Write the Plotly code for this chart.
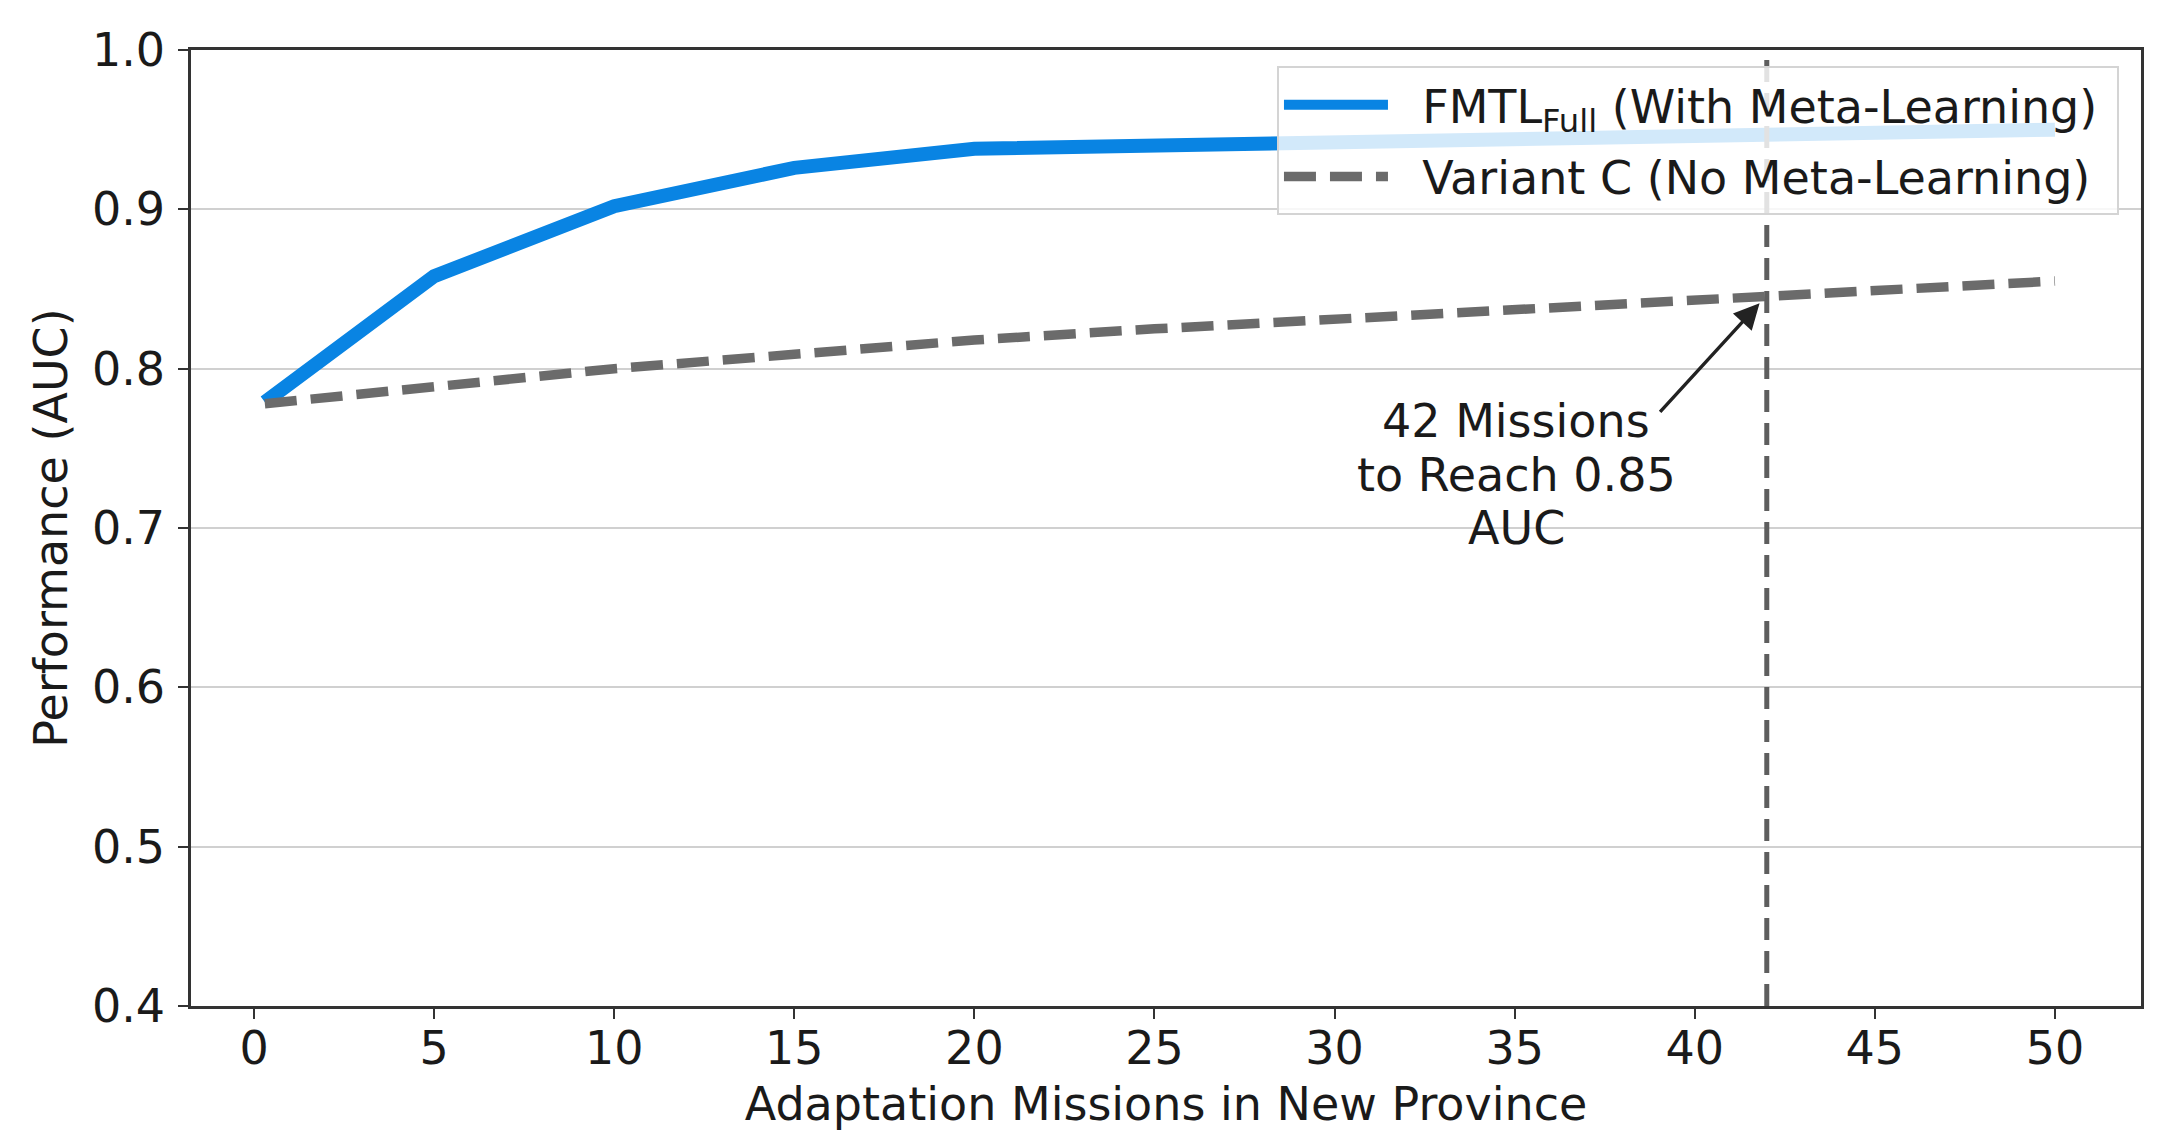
import plotly.graph_objects as go

# ---- data ----
missions = [0.3, 5, 10, 15, 20, 25, 30, 35, 40, 45, 50]
fmtl_full = [0.779, 0.858, 0.902, 0.926, 0.938, 0.940, 0.942, 0.944, 0.946, 0.948, 0.950]
variant_c = [0.778, 0.789, 0.800, 0.809, 0.818, 0.825, 0.831, 0.837, 0.843, 0.849, 0.855]
x_ticks = [0, 5, 10, 15, 20, 25, 30, 35, 40, 45, 50]
y_ticks = [0.4, 0.5, 0.6, 0.7, 0.8, 0.9, 1.0]
y_tick_labels = ["0.4", "0.5", "0.6", "0.7", "0.8", "0.9", "1.0"]
threshold_mission = 42
annot_head = (41.8, 0.841)
annot_tail = (39.0, 0.772)
annot_lines = ["42 Missions", "to Reach 0.85", "AUC"]
annot_line_y = [0.767, 0.733, 0.700]
annot_x = 35.05

FONT = "DejaVu Sans"
TXT = "#1a1a1a"
FS = 46
NB = "\u00a0\u00a0"

fig = go.Figure()
fig.add_trace(go.Scatter(
    x=missions, y=fmtl_full, mode="lines",
    name=NB + "FMTL<sub>Full</sub> (With Meta-Learning)\u00a0", legendgroup="a",
    line=dict(color="#0984e3", width=14),
))
fig.add_trace(go.Scatter(
    x=missions, y=variant_c, mode="lines",
    name=NB + "Variant C (No Meta-Learning)\u00a0", legendgroup="b",
    line=dict(color="#6b6b6b", width=9.5, dash="32px,14px"),
))

# vertical threshold line
fig.add_shape(type="line", xref="x", yref="paper",
              x0=threshold_mission, x1=threshold_mission, y0=0, y1=1,
              line=dict(color="#5e5e5e", width=5, dash="22px,11px"), layer="above")

# arrow
fig.add_annotation(x=annot_head[0], y=annot_head[1], ax=annot_tail[0], ay=annot_tail[1],
                   xref="x", yref="y", axref="x", ayref="y", text="",
                   showarrow=True, arrowhead=2, arrowsize=1.5, arrowwidth=3.4,
                   arrowcolor="#222222")
for line_text, line_y in zip(annot_lines, annot_line_y):
    fig.add_annotation(x=annot_x, y=line_y, xref="x", yref="y",
                       text=line_text, showarrow=False, xanchor="center", yanchor="middle",
                       font=dict(family=FONT, size=FS, color=TXT))

fig.update_layout(
    width=2169, height=1147,
    margin=dict(l=183, r=36, t=42, b=149),
    paper_bgcolor="white", plot_bgcolor="white",
    font=dict(family=FONT, size=FS, color=TXT),
    showlegend=True,
    legend=dict(x=0.9887, y=0.983, xanchor="right", yanchor="top",
                bgcolor="rgba(255,255,255,0.82)", bordercolor="#d4d4d4", borderwidth=2,
                font=dict(family=FONT, size=FS, color=TXT), itemwidth=104,
                tracegroupgap=9),
)
fig.update_xaxes(
    range=[-1.75, 52.39], tickvals=x_ticks, ticks="outside", ticklen=10, tickwidth=2,
    tickcolor="#333333", showline=True, linecolor="#333333", linewidth=2.5, mirror=True,
    showgrid=False, zeroline=False, tickfont=dict(family=FONT, size=FS, color=TXT),
    ticklabelstandoff=-10,
    title=dict(text="Adaptation Missions in New Province", standoff=14,
               font=dict(family=FONT, size=FS, color=TXT)),
)
fig.update_yaxes(
    range=[0.4, 1.0], tickvals=y_ticks, ticktext=y_tick_labels, ticks="outside",
    ticklen=10, tickwidth=2, tickcolor="#333333", showline=True, linecolor="#333333",
    linewidth=2.5, mirror=True, showgrid=True, gridcolor="#d0d0d0", gridwidth=2,
    zeroline=False, tickfont=dict(family=FONT, size=FS, color=TXT),
    ticklabelstandoff=4,
    title=dict(text="Performance (AUC)", standoff=10,
               font=dict(family=FONT, size=FS, color=TXT)),
)

fig.write_html("out.html")
